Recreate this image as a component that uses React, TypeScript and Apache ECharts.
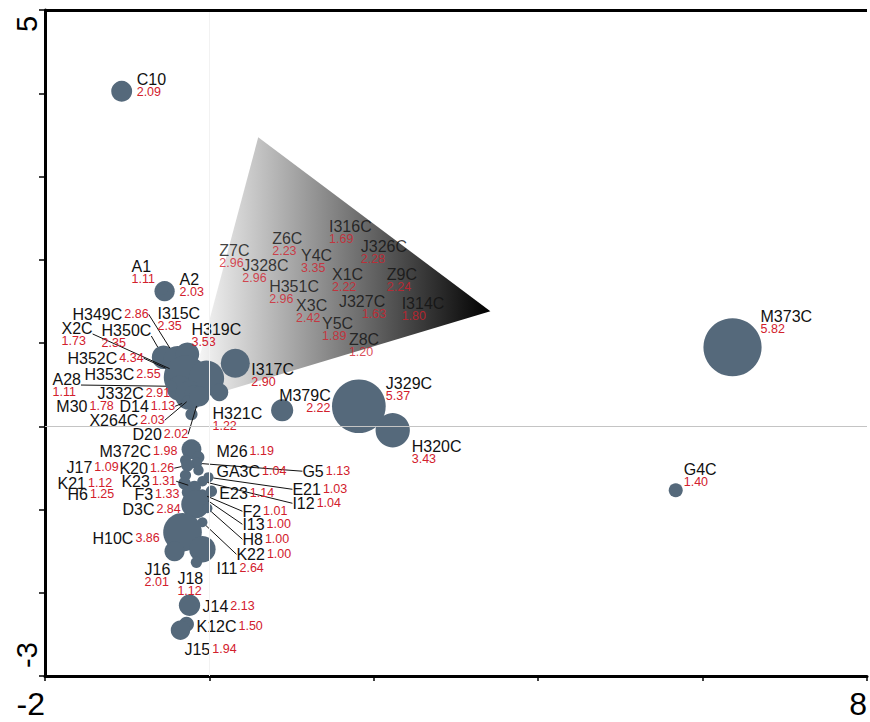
import { useEffect, useRef } from 'react';
import * as echarts from 'echarts';

const FONT = '"Liberation Sans", Arial, Helvetica, sans-serif';
const BUBBLE = '#55697b';
const RED = '#d2202c';

// Ordination scores of the plotted samples (axis 1, axis 2) and their weights.
const sampleNames = [
  'C10', 'A2', 'A1',
  'H350C', 'H349C', 'I315C', 'X2C', 'H352C', 'H319C', 'H353C', 'A28', 'J332C', 'M30',
  'X264C', 'D14', 'D20', 'H321C', 'I317C', 'M379C', 'J329C', 'H320C', 'M373C', 'G4C',
  'M372C', 'M26', 'G5', 'J17', 'K20', 'GA3C', 'K21', 'E21', 'I12', 'H6', 'K23', 'E23',
  'F3', 'F2', 'I13', 'D3C', 'H8', 'K22', 'H10C', 'I11', 'J16', 'J18', 'J14', 'K12C', 'J15',
];
const axis1 = [
  -1.067, -0.545, -0.57,
  -0.558, -0.388, -0.267, -0.388, -0.291, -0.036, -0.364, -0.461, -0.242, 0.121,
  -0.182, -0.267, -0.121, -0.218, 0.315, 0.885, 1.818, 2.23, 6.364, 5.673,
  -0.218, -0.133, -0.158, -0.291, -0.267, -0.133, -0.291, -0.012, -0.085, -0.303, -0.182, 0.024,
  -0.255, -0.085, -0.061, -0.17, -0.024, -0.085, -0.327, -0.085, -0.424, -0.158, -0.242, -0.279, -0.352,
];
const axis2 = [
  4.024, 1.622, 1.646,
  0.829, 0.793, 0.865, 0.649, 0.589, 0.577, 0.456, 0.48, 0.372, 0.408,
  0.372, 0.3, 0.36, 0.144, 0.757, 0.192, 0.24, -0.048, 0.949, -0.769,
  -0.276, -0.372, -0.444, -0.408, -0.468, -0.529, -0.589, -0.613, -0.661, -0.685, -0.733, -0.781,
  -0.793, -0.817, -0.865, -0.937, -0.985, -1.153, -1.273, -1.477, -1.502, -1.634, -2.15, -2.378, -2.45,
];
const weights = [
  2.09, 2.03, 1.11,
  2.35, 2.86, 2.35, 1.73, 4.34, 3.53, 2.55, 1.11, 2.91, 1.78,
  2.03, 1.13, 2.02, 1.22, 2.9, 2.22, 5.37, 3.43, 5.82, 1.4,
  1.98, 1.19, 1.13, 1.09, 1.26, 1.04, 1.12, 1.03, 1.04, 1.25, 1.31, 1.14,
  1.33, 1.01, 1.0, 2.84, 1.0, 1.0, 3.86, 2.64, 2.01, 1.12, 2.13, 1.5, 1.94,
];

// Samples grouped under the shaded wedge.
const wedgeNames = [
  'Z7C', 'Z6C', 'I316C', 'J326C', 'Y4C', 'J328C', 'H351C',
  'X1C', 'Z9C', 'J327C', 'I314C', 'X3C', 'Y5C', 'Z8C',
];
const wedgeAxis1 = [0.121, 0.764, 1.455, 1.842, 1.115, 0.4, 0.727, 1.491, 2.158, 1.576, 2.339, 1.055, 1.37, 1.697];
const wedgeAxis2 = [2.198, 2.342, 2.486, 2.246, 2.138, 2.018, 1.766, 1.91, 1.91, 1.586, 1.562, 1.538, 1.321, 1.129];
const wedgeWeights = [2.96, 2.23, 1.69, 2.28, 3.35, 2.96, 2.96, 2.22, 2.24, 1.63, 1.8, 2.42, 1.89, 1.2];

// Corners of the wedge in axis units.
const wedgeVertices: [number, number][] = [
  [0.594, 3.471],
  [3.418, 1.381],
  [-0.267, 0.288],
];

const xTickLabels = [-2, 8];
const yTickLabels = [5, -3];

// Label placement in pixels from the mark centre:
// [dx, dy, value below name (1) or beside it (0), leader line, value indent]
const labelPlacement: Record<string, number[]> = {
  C10: [15, -19, 1, 0], A2: [15, -19, 1, 0], A1: [-31, -30, 1, 0],
  H350C: [-62, -34, 1, 1], H349C: [-105, -53, 0, 1], I315C: [-30, -48, 1, 0],
  X2C: [-116, -51, 1, 1], H352C: [-118, -26, 0, 1], H319C: [-15, -56, 1, 0],
  H353C: [-95, -21, 0, 0], A28: [-119, -14, 1, 1], J332C: [-92, -9, 0, 0],
  M30: [-163, 7, 0, 0], X264C: [-105, 18, 0, 1], D14: [-68, -2, 0, 1],
  D20: [-67, 31, 0, 1], H321C: [21, -8, 1, 0], I317C: [16, -1, 1, 0],
  M379C: [-3, -22, 1, 0, 27], J329C: [27, -30, 1, 0], H320C: [19, 9, 1, 0],
  M373C: [28, -38, 1, 0], G4C: [8, -28, 1, 0],
  M372C: [-92, -5, 0, 0], M26: [18, -13, 0, 0], G5: [106, 1, 0, 1],
  J17: [-119, 0, 0, 0], K20: [-68, -4, 0, 1], GA3C: [18, -6, 0, 0],
  K21: [-128, 1, 0, 0], E21: [84, 5, 0, 1], I12: [90, 15, 0, 1],
  H6: [-117, 4, 0, 0], K23: [-73, -13, 0, 1], E23: [8, -5, 0, 0],
  F3: [-54, -5, 0, 0], F2: [40, 10, 0, 1], I13: [38, 19, 0, 1],
  D3C: [-73, -2, 0, 0], H8: [35, 24, 0, 1], K22: [34, 25, 0, 1],
  H10C: [-90, -1, 0, 0], I11: [14, 12, 0, 0], J16: [-30, 11, 1, 0],
  J18: [-19, 9, 1, 0], J14: [13, -6, 0, 0], K12C: [10, -5, 0, 0],
  J15: [4, 12, 0, 0],
  J327C: [0, 0, 1, 0, 23],
};
const placementOf = (name: string) => labelPlacement[name] || [0, 0, 1, 0, 0];

const indents = Array.from(new Set(Object.values(labelPlacement).map((p) => p[4] || 0).concat([0])));
const rich: Record<string, any> = {
  n: { fontFamily: FONT, fontSize: 16, lineHeight: 14, color: '#111111' },
  vi: { fontFamily: FONT, fontSize: 12.5, lineHeight: 14, color: RED, padding: [0, 0, 0, 2] },
};
indents.forEach((k) => {
  rich['v' + k] = { fontFamily: FONT, fontSize: 12.5, lineHeight: 12, color: RED, padding: [0, 0, 0, k] };
});

const formatLabel = (p: any) => {
  const pl = placementOf(p.name);
  const val = Number(p.value[2]).toFixed(2);
  return pl[2] ? `{n|${p.name}}\n{v${pl[4] || 0}|${val}}` : `{n|${p.name}}{vi|${val}}`;
};

const layoutFor = (names: string[]) => (p: any) => {
  const pl = placementOf(names[p.dataIndex]);
  return {
    x: p.rect.x + p.rect.width / 2 + pl[0],
    y: p.rect.y + p.rect.height / 2 + pl[1],
    align: 'left',
    verticalAlign: 'top',
  };
};

export default function App() {
  const ref = useRef<HTMLDivElement>(null);

  useEffect(() => {
    const chart = echarts.init(ref.current!, undefined, { renderer: 'svg' });

    const bubbleData = sampleNames.map((name, i) => ({
      name,
      value: [axis1[i], axis2[i], weights[i]],
      labelLine: { show: placementOf(name)[3] === 1 },
    }));
    const wedgeData = wedgeNames.map((name, i) => ({
      name,
      value: [wedgeAxis1[i], wedgeAxis2[i], wedgeWeights[i]],
    }));

    const option: any = {
      animation: false,
      backgroundColor: '#ffffff',
      grid: { show: false, left: 45, right: 0, top: 10, bottom: 46 },
      xAxis: {
        type: 'value',
        min: -2,
        max: 8,
        interval: 2,
        axisLine: { onZero: false, lineStyle: { color: '#000', width: 3 } },
        axisTick: { show: true, length: 5, lineStyle: { color: '#000', width: 1.5 } },
        splitLine: { show: false },
        axisLabel: {
          fontFamily: FONT,
          fontSize: 32,
          color: '#000',
          margin: 12,
          align: 'right',
          formatter: (v: number) => (xTickLabels.includes(v) ? String(v) : ''),
        },
      },
      yAxis: {
        type: 'value',
        min: -3,
        max: 5,
        interval: 1,
        axisLine: { onZero: false, lineStyle: { color: '#000', width: 3 } },
        axisTick: { show: true, length: 6, lineStyle: { color: '#000', width: 1.5 } },
        splitLine: { show: false },
        axisLabel: {
          rotate: 90,
          margin: 4,
          formatter: (v: number) =>
            v === yTickLabels[0] ? `{hi|${v}}` : v === yTickLabels[1] ? `{lo|${v}}` : '',
          rich: {
            hi: { fontFamily: FONT, fontSize: 29, color: '#000', padding: [0, 28, 0, 0] },
            lo: { fontFamily: FONT, fontSize: 29, color: '#000', padding: [0, 0, 0, 42] },
          },
        },
      },
      series: [
        {
          type: 'custom',
          z: 1,
          silent: true,
          data: [wedgeVertices[0]],
          renderItem: (_params: any, api: any) => ({
            type: 'polygon',
            shape: { points: wedgeVertices.map((v) => api.coord(v)) },
            style: {
              fill: new echarts.graphic.LinearGradient(0, 0, 1, 0, [
                { offset: 0, color: '#ffffff' },
                { offset: 1, color: '#000000' },
              ]),
            },
          }),
          markLine: {
            silent: true,
            symbol: ['none', 'none'],
            label: { show: false },
            lineStyle: { type: 'solid', width: 1 },
            data: [
              { yAxis: 0, lineStyle: { color: '#c4c4c4', type: 'solid', width: 1 } },
              { xAxis: 0, lineStyle: { color: '#f2f2f2', type: 'solid', width: 1 } },
              { yAxis: 5, lineStyle: { color: '#000000', type: 'solid', width: 3 } },
            ],
          },
        },
        {
          type: 'scatter',
          name: 'samples',
          z: 2,
          data: bubbleData,
          symbolSize: (v: number[]) => v[2] * 10,
          itemStyle: { color: BUBBLE, opacity: 1 },
          label: { show: true, formatter: formatLabel, rich },
          labelLine: {
            show: false,
            showAbove: true,
            length2: 0,
            lineStyle: { color: '#111', width: 1 },
          },
          labelLayout: layoutFor(sampleNames),
          emphasis: { disabled: true },
        },
        {
          type: 'scatter',
          name: 'wedge',
          z: 3,
          silent: true,
          data: wedgeData,
          symbolSize: (v: number[]) => v[2] * 4,
          itemStyle: { color: 'rgba(0,0,0,0)' },
          label: { show: true, formatter: formatLabel, rich },
          labelLayout: layoutFor(wedgeNames),
          emphasis: { disabled: true },
        },
      ],
    };

    chart.setOption(option);
    return () => chart.dispose();
  }, []);

  return (
    <div
      ref={ref}
      style={{ position: 'absolute', left: 0, top: 0, width: 870, height: 722, background: '#fff' }}
    />
  );
}
